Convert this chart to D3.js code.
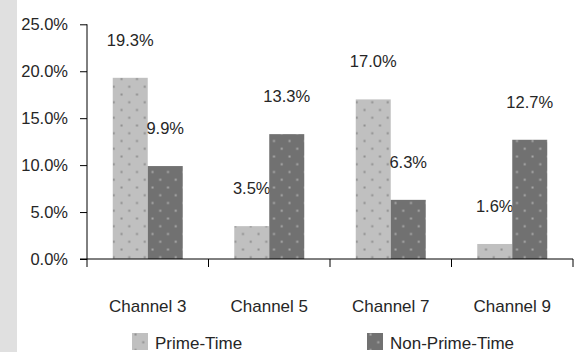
<!DOCTYPE html>
<html>
<head>
<meta charset="utf-8">
<script src="https://cdn.jsdelivr.net/npm/d3@7"></script>
<style>
  html, body { margin: 0; padding: 0; background: #fff; }
  svg { display: block; font-family: "Liberation Sans", Arial, sans-serif; }
</style>
</head>
<body>
<svg id="chart" width="580" height="352"></svg>
<script>
// Audience share by channel, prime-time vs non-prime-time
const categories = ["Channel 3", "Channel 5", "Channel 7", "Channel 9"];
const seriesNames = ["Prime-Time", "Non-Prime-Time"];
const primeTime = [19.3, 3.5, 17.0, 1.6];
const nonPrimeTime = [9.9, 13.3, 6.3, 12.7];
const yTicks = [0, 5, 10, 15, 20, 25];

const seriesValues = [primeTime, nonPrimeTime];
const fills = ["#c0c0c0", "#717171"];
const dotColors = ["#8e8e8e", "#a9a9a9"];
const textColor = "#262626";

const svg = d3.select("#chart");

// Light side strip
svg.append("rect").attr("x", 0).attr("y", 0).attr("width", 17).attr("height", 352).attr("fill", "#e0e0e0");

// Dotted fill patterns
const defs = svg.append("defs");
seriesNames.forEach((name, i) => {
  const p = defs.append("pattern")
    .attr("id", "pat" + i)
    .attr("patternUnits", "userSpaceOnUse")
    .attr("width", 15.5).attr("height", 15.5);
  p.append("rect").attr("width", 15.5).attr("height", 15.5).attr("fill", fills[i]);
  [[3.5, 1.5], [11.25, 9.25]].forEach(([cx, cy]) => {
    p.append("rect").attr("x", cx - 1).attr("y", cy - 1).attr("width", 2).attr("height", 2).attr("fill", dotColors[i]);
  });
});

const x = d3.scaleBand().domain(categories).range([87, 573]).paddingInner(0).paddingOuter(0);
const xSub = d3.scaleBand().domain(seriesNames).range([0, x.bandwidth()]).paddingInner(0).paddingOuter(0.736);
const y = d3.scaleLinear().domain([0, 25]).range([259, 24.3]);

// Y axis
const yAxis = d3.axisLeft(y).tickValues(yTicks).tickSize(7).tickPadding(12)
  .tickFormat(d => d3.format(".1f")(d) + "%");
const gy = svg.append("g").attr("transform", "translate(87,0)").call(yAxis);
gy.select(".domain").attr("d", `M0,${y(25)}V267`).attr("stroke", "#000");
gy.selectAll(".tick line").attr("stroke", "#000");
gy.selectAll(".tick text").attr("fill", textColor).style("font-size", "16.5px")
  .style("font-family", "Liberation Sans, Arial, sans-serif");

// Bars
const groups = svg.append("g").selectAll("g").data(categories).join("g")
  .attr("transform", d => `translate(${x(d)},0)`);

seriesNames.forEach((name, si) => {
  groups.append("rect")
    .attr("x", xSub(name))
    .attr("width", xSub.bandwidth())
    .attr("y", (d, ci) => y(seriesValues[si][ci]))
    .attr("height", (d, ci) => y(0) - y(seriesValues[si][ci]))
    .attr("fill", `url(#pat${si})`);
  groups.append("text")
    .attr("x", xSub(name) + xSub.bandwidth() / 2)
    .attr("y", (d, ci) => y(seriesValues[si][ci]) - 38)
    .attr("dy", "0.36em")
    .attr("text-anchor", "middle")
    .attr("fill", textColor)
    .style("font-size", "16.5px")
    .text((d, ci) => d3.format(".1f")(seriesValues[si][ci]) + "%");
});

// X axis
const xAxis = d3.axisBottom(x).tickSize(0).tickPadding(0).tickFormat("");
const gx = svg.append("g").attr("transform", `translate(0,${y(0)})`).call(xAxis);
gx.select(".domain").attr("d", `M80,0H573`).attr("stroke", "#000");
gx.selectAll(".tick").remove();
const boundaries = categories.map(c => x(c)).concat([x.range()[1]]);
gx.selectAll("line.sep").data(boundaries.slice(1)).join("line")
  .attr("class", "sep")
  .attr("x1", d => d).attr("x2", d => d)
  .attr("y1", 0).attr("y2", 8)
  .attr("stroke", "#000");

svg.append("g").selectAll("text").data(categories).join("text")
  .attr("x", d => x(d) + x.bandwidth() / 2)
  .attr("y", 306)
  .attr("dy", "0.36em")
  .attr("text-anchor", "middle")
  .attr("fill", textColor)
  .style("font-size", "17px")
  .text(d => d);

// Legend
const legendX = [132, 367];
const legend = svg.append("g").selectAll("g").data(seriesNames).join("g")
  .attr("transform", (d, i) => `translate(${legendX[i]},333)`);
legend.append("rect").attr("width", 16).attr("height", 17)
  .attr("fill", (d, i) => `url(#pat${i})`);
legend.append("text").attr("x", 23).attr("y", 10).attr("dy", "0.36em")
  .attr("fill", textColor).style("font-size", "17px").text(d => d);
</script>
</body>
</html>
